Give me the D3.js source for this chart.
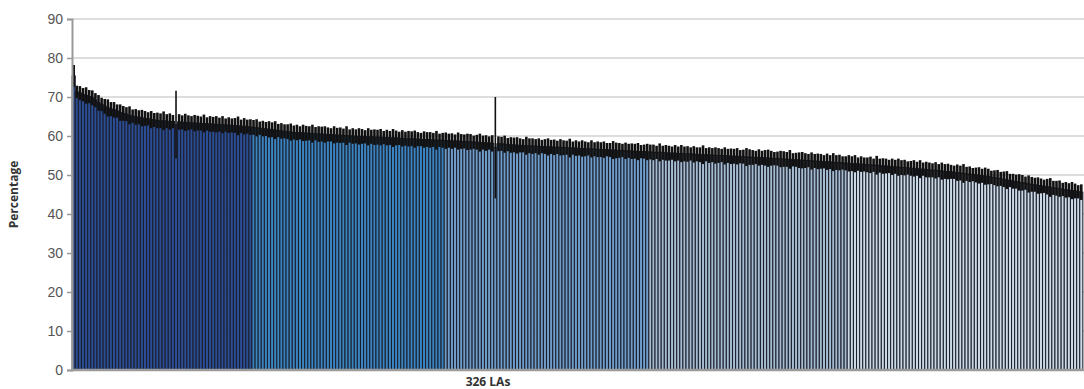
<!DOCTYPE html>
<html>
<head>
<meta charset="utf-8">
<script src="https://cdn.jsdelivr.net/npm/d3@7"></script>
<style>
  body { margin: 0; background: #fff; }
  svg { display: block; font-family: "Open Sans", "DejaVu Sans", sans-serif; }
  .tick text { fill: #555; font-size: 14px; }
  .axis-title { fill: #333; font-size: 12px; font-weight: bold; }
</style>
</head>
<body>
<svg id="chart" width="1084" height="389"></svg>
<script>
// percentage for each of the 326 LAs, sorted high to low
const values = [
  75.4, 71.3, 71.0, 70.6, 70.4, 70.1, 69.8, 69.2, 68.5, 68.1,
  67.6, 67.2, 66.9, 66.7, 66.4, 66.0, 65.8, 65.6, 65.3, 65.1,
  64.9, 64.8, 64.6, 64.5, 64.4, 64.2, 64.1, 64.0, 63.9, 63.9,
  63.8, 63.7, 63.7, 62.9, 63.6, 63.5, 63.5, 63.4, 63.4, 63.3,
  63.3, 63.2, 63.2, 63.1, 63.1, 63.0, 63.0, 62.9, 62.9, 62.8,
  62.8, 62.7, 62.7, 62.6, 62.5, 62.5, 62.4, 62.3, 62.2, 62.1,
  62.0, 61.9, 61.8, 61.7, 61.6, 61.5, 61.4, 61.3, 61.2, 61.1,
  61.0, 60.9, 60.9, 60.8, 60.8, 60.7, 60.7, 60.6, 60.6, 60.5,
  60.5, 60.4, 60.4, 60.3, 60.3, 60.2, 60.2, 60.1, 60.1, 60.0,
  60.0, 59.9, 59.9, 59.9, 59.8, 59.8, 59.8, 59.7, 59.7, 59.7,
  59.6, 59.6, 59.5, 59.5, 59.5, 59.4, 59.4, 59.3, 59.3, 59.3,
  59.2, 59.2, 59.1, 59.1, 59.1, 59.0, 59.0, 58.9, 58.9, 58.9,
  58.8, 58.8, 58.7, 58.7, 58.7, 58.6, 58.6, 58.5, 58.5, 58.4,
  58.4, 58.3, 58.3, 58.2, 58.2, 58.1, 57.0, 58.0, 58.0, 57.9,
  57.8, 57.7, 57.7, 57.6, 57.6, 57.5, 57.5, 57.5, 57.4, 57.4,
  57.3, 57.3, 57.3, 57.2, 57.2, 57.1, 57.1, 57.1, 57.0, 57.0,
  56.9, 56.9, 56.9, 56.8, 56.8, 56.7, 56.7, 56.7, 56.6, 56.6,
  56.5, 56.5, 56.5, 56.4, 56.4, 56.3, 56.3, 56.3, 56.2, 56.2,
  56.1, 56.1, 56.0, 56.0, 56.0, 55.9, 55.9, 55.8, 55.8, 55.8,
  55.7, 55.7, 55.6, 55.6, 55.6, 55.5, 55.5, 55.4, 55.4, 55.4,
  55.3, 55.3, 55.2, 55.2, 55.2, 55.1, 55.1, 55.0, 55.0, 55.0,
  54.9, 54.9, 54.8, 54.8, 54.8, 54.7, 54.7, 54.6, 54.6, 54.5,
  54.5, 54.5, 54.4, 54.4, 54.3, 54.3, 54.2, 54.2, 54.1, 54.1,
  54.0, 54.0, 53.9, 53.9, 53.8, 53.8, 53.7, 53.7, 53.6, 53.6,
  53.5, 53.5, 53.4, 53.4, 53.3, 53.3, 53.2, 53.2, 53.1, 53.0,
  53.0, 52.9, 52.9, 52.8, 52.8, 52.7, 52.6, 52.6, 52.5, 52.5,
  52.4, 52.3, 52.3, 52.2, 52.1, 52.1, 52.0, 51.9, 51.9, 51.8,
  51.7, 51.7, 51.6, 51.5, 51.5, 51.4, 51.3, 51.2, 51.2, 51.1,
  51.0, 50.9, 50.9, 50.8, 50.7, 50.6, 50.5, 50.4, 50.3, 50.2,
  50.1, 50.0, 49.9, 49.8, 49.7, 49.6, 49.4, 49.3, 49.2, 49.0,
  48.9, 48.7, 48.6, 48.4, 48.3, 48.1, 48.0, 47.9, 47.7, 47.6,
  47.5, 47.3, 47.2, 47.1, 47.0, 46.8, 46.7, 46.6, 46.5, 46.3,
  46.2, 46.1, 46.0, 45.9, 45.7, 45.6
];

// half width of the confidence interval for each LA
const ciHalf = [
  2.8, 1.6, 1.8, 1.7, 2.1, 1.7, 1.9, 1.8, 2.0, 1.7,
  1.9, 2.2, 1.8, 2.0, 1.7, 2.1, 1.9, 1.8, 2.3, 1.7,
  2.0, 1.8, 2.1, 1.9, 1.7, 2.2, 1.8, 2.0, 1.9, 2.4,
  1.8, 2.1, 1.7, 8.7, 2.0, 1.8, 2.2, 1.9, 1.7, 2.1,
  1.9, 1.8, 2.3, 1.7, 2.0, 1.9, 2.1, 1.8, 2.2, 1.7,
  2.0, 1.8, 1.9, 2.4, 1.7, 2.1, 1.8, 2.0, 1.9, 2.2,
  1.7, 2.0, 1.8, 2.1, 1.9, 2.3, 1.7, 2.0, 1.8, 1.9,
  2.2, 1.8, 2.0, 1.7, 2.1, 1.9, 1.8, 2.3, 1.7, 2.0,
  1.9, 2.1, 1.8, 1.7, 2.2, 1.9, 2.0, 1.8, 2.4, 1.7,
  2.0, 1.8, 2.1, 1.9, 1.7, 2.2, 1.8, 2.0, 1.9, 2.1,
  1.7, 2.0, 1.8, 2.3, 1.9, 1.7, 2.1, 1.8, 2.0, 1.9,
  2.2, 1.8, 1.7, 2.1, 1.9, 2.0, 1.8, 2.4, 1.7, 1.9,
  2.1, 1.8, 2.0, 1.7, 2.2, 1.9, 1.8, 2.1, 2.0, 1.7,
  1.9, 2.3, 1.8, 2.0, 1.7, 2.1, 13.0, 1.9, 1.8, 2.2,
  1.7, 2.0, 1.9, 2.1, 1.8, 1.7, 2.3, 1.9, 2.0, 1.8,
  2.1, 1.7, 1.9, 2.2, 1.8, 2.0, 1.7, 2.1, 1.9, 1.8,
  2.4, 1.7, 2.0, 1.8, 2.1, 1.9, 1.7, 2.2, 1.8, 2.0,
  1.9, 2.1, 1.7, 1.8, 2.3, 2.0, 1.9, 1.7, 2.1, 1.8,
  2.0, 1.9, 2.2, 1.7, 1.8, 2.1, 1.9, 2.0, 1.7, 2.3,
  1.8, 2.0, 1.9, 1.7, 2.1, 1.8, 2.2, 1.9, 2.0, 1.7,
  2.1, 1.8, 1.9, 2.4, 1.7, 2.0, 1.8, 2.1, 1.9, 1.7,
  2.2, 1.8, 2.0, 1.9, 2.1, 1.7, 1.8, 2.3, 2.0, 1.9,
  1.7, 2.1, 1.8, 2.0, 2.2, 1.9, 1.7, 1.8, 2.1, 2.0,
  1.9, 2.4, 1.7, 1.8, 2.0, 2.1, 1.9, 1.7, 2.2, 1.8,
  2.0, 1.9, 1.7, 2.1, 1.8, 2.3, 1.9, 2.0, 1.7, 1.8,
  2.1, 1.9, 2.2, 1.7, 2.0, 1.8, 1.9, 2.1, 1.7, 2.4,
  1.8, 2.0, 1.9, 1.7, 2.1, 1.8, 2.2, 1.9, 2.0, 1.7,
  1.9, 2.1, 1.8, 2.3, 1.7, 2.0, 1.9, 1.8, 2.1, 1.7,
  2.2, 1.9, 2.0, 1.8, 1.7, 2.1, 1.9, 2.4, 1.8, 2.0,
  1.7, 1.9, 2.1, 1.8, 2.2, 2.0, 1.7, 1.9, 2.1, 1.8,
  2.0, 2.3, 1.7, 1.9, 1.8, 2.1, 2.0, 1.7, 2.2, 1.9,
  1.8, 2.1, 1.9, 1.7, 2.0, 2.4, 1.8, 1.9, 2.1, 1.7,
  2.0, 1.8, 2.2, 1.9, 1.7, 2.0
];

// first LA index of each colour group
const groupStart = [0, 58, 120, 186, 250];
const yTicks = [0, 10, 20, 30, 40, 50, 60, 70, 80, 90];
const xTitle = "326 LAs";
const yTitle = "Percentage";

const groupColors = ["#2a4d95", "#3a85c1", "#6f9cc9", "#a5bbd0", "#cbd9e5"];

const svg = d3.select("#chart");
const margin = {top: 19, right: 1, bottom: 19, left: 72};
const W = +svg.attr("width"), H = +svg.attr("height");
const w = W - margin.left - margin.right, h = H - margin.top - margin.bottom;

const g = svg.append("g").attr("transform", `translate(${margin.left},${margin.top})`);

const data = values.map((v, i) => ({
  i, v, lo: v - ciHalf[i], hi: v + ciHalf[i],
  group: d3.bisectRight(groupStart, i) - 1
}));

const x = d3.scaleBand().domain(d3.range(values.length)).range([0, w]).paddingInner(0).paddingOuter(0.05);
const y = d3.scaleLinear().domain([0, 90]).range([h, 0]);

// gridlines
g.append("g")
  .selectAll("line")
  .data(yTicks.filter(t => t > 0))
  .join("line")
  .attr("x1", 0).attr("x2", w + margin.right)
  .attr("y1", d => y(d)).attr("y2", d => y(d))
  .attr("stroke", "#d2d2d2").attr("stroke-width", 1.5);

// bars
g.append("g")
  .selectAll("rect")
  .data(data)
  .join("rect")
  .attr("x", d => x(d.i))
  .attr("y", d => y(d.v))
  .attr("width", x.bandwidth())
  .attr("height", d => h - y(d.v))
  .attr("fill", d => groupColors[d.group])
  .attr("stroke", "#1b1f2c")
  .attr("stroke-width", 1.05);

// confidence intervals
g.append("g")
  .selectAll("line")
  .data(data)
  .join("line")
  .attr("x1", d => x(d.i) + x.bandwidth() / 2)
  .attr("x2", d => x(d.i) + x.bandwidth() / 2)
  .attr("y1", d => y(d.lo))
  .attr("y2", d => y(d.hi))
  .attr("stroke", "#111")
  .attr("stroke-width", d => d.hi - d.lo > 10 ? 1.6 : 2.6);

// y axis
const yAxis = g.append("g")
  .call(d3.axisLeft(y).tickValues(yTicks).tickSize(5).tickPadding(4));
yAxis.select(".domain").attr("stroke", "#999").attr("stroke-width", 2);
yAxis.selectAll(".tick line").attr("stroke", "#999").attr("stroke-width", 1.5);

// x axis baseline
g.append("line")
  .attr("x1", 0).attr("x2", w + margin.right)
  .attr("y1", h).attr("y2", h)
  .attr("stroke", "#9a9a9a").attr("stroke-width", 2.5);

svg.append("text")
  .attr("class", "axis-title")
  .attr("text-anchor", "middle")
  .attr("transform", `translate(18,${margin.top + h / 2}) rotate(-90)`)
  .text(yTitle);

svg.append("text")
  .attr("class", "axis-title")
  .attr("text-anchor", "middle")
  .attr("x", 488)
  .attr("y", 386)
  .text(xTitle);
</script>
</body>
</html>
